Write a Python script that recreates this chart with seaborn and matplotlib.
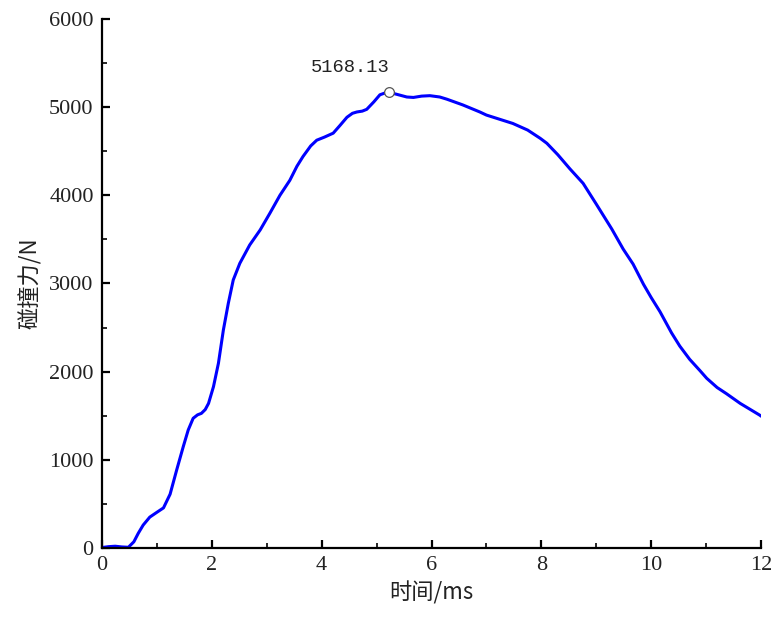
import numpy as np
import pandas as pd
import matplotlib
matplotlib.use("Agg")
import matplotlib.pyplot as plt
from matplotlib.ticker import MultipleLocator
import seaborn as sns

# Impact force history
time_ms = [0.0, 0.12, 0.24, 0.36, 0.48, 0.58, 0.66, 0.75, 0.87, 1.0,
           1.12, 1.24, 1.36, 1.48, 1.57, 1.66, 1.74, 1.81, 1.88, 1.94,
           2.03, 2.12, 2.21, 2.30, 2.39, 2.51, 2.69, 2.88, 3.06, 3.24,
           3.42, 3.55, 3.66, 3.8, 3.91, 4.05, 4.21, 4.33, 4.46, 4.56,
           4.64, 4.74, 4.82, 4.95, 5.06, 5.15, 5.23, 5.4, 5.55, 5.67,
           5.82, 5.97, 6.15, 6.28, 6.57, 6.88, 7.0, 7.48, 7.75, 7.98,
           8.1, 8.3, 8.52, 8.76, 9.0, 9.28, 9.49, 9.67, 9.86, 10.0,
           10.16, 10.37, 10.52, 10.7, 10.89, 11.01, 11.2, 11.37, 11.62, 11.98,
           12.0]
force_n = [5, 15, 20, 12, 8, 70, 166, 260, 350, 405,
           455, 610, 885, 1150, 1338, 1471, 1510, 1527, 1570, 1640,
           1830, 2095, 2472, 2775, 3040, 3229, 3437, 3607, 3800, 4000,
           4170, 4330, 4440, 4560, 4625, 4660, 4705, 4790, 4885, 4930,
           4945, 4955, 4975, 5060, 5140, 5160, 5168.13, 5140, 5115, 5110,
           5125, 5130, 5115, 5090, 5025, 4945, 4910, 4815, 4740, 4646,
           4590, 4460, 4300, 4136, 3900, 3620, 3390, 3220, 2990, 2840,
           2680, 2440, 2290, 2140, 2010, 1925, 1820, 1750, 1640, 1505,
           1495]

x_ticks = [0, 2, 4, 6, 8, 10, 12]
y_ticks = [0, 1000, 2000, 3000, 4000, 5000, 6000]

df = pd.DataFrame({"t": time_ms, "F": force_n})

sns.set_theme(style="ticks")
plt.rcParams["font.family"] = ["Liberation Serif", "Noto Sans CJK SC"]

fig = plt.figure(figsize=(7.75, 6.22), dpi=100)
ax = fig.add_axes([0.1316, 0.119, 0.8504, 0.8505])

sns.lineplot(data=df, x="t", y="F", ax=ax, color="#0000ff", linewidth=2.2,
             estimator=None, sort=False)

# Peak marker and its value
i_peak = int(np.argmax(df["F"].values))
pt, pf = df["t"][i_peak], df["F"][i_peak]
ax.plot([pt], [pf], marker="o", markersize=7, markerfacecolor="white",
        markeredgecolor="#555555", markeredgewidth=0.9, zorder=5)
ax.annotate(f"{pf:.2f}", xy=(pt, pf), xytext=(-28, 12), textcoords="offset points",
            ha="center", va="bottom", fontsize=13.5,
            family=["Liberation Mono", "DejaVu Sans Mono"], color="#222222")

ax.set_xlim(0, 12)
ax.set_ylim(0, 6000)
ax.set_xticks(x_ticks)
ax.set_yticks(y_ticks)
ax.xaxis.set_minor_locator(MultipleLocator(1))
ax.yaxis.set_minor_locator(MultipleLocator(500))

for side in ("top", "right"):
    ax.spines[side].set_visible(False)
for side in ("left", "bottom"):
    ax.spines[side].set_linewidth(1.6)
    ax.spines[side].set_color("black")

ax.tick_params(which="major", direction="in", length=6, width=1.6,
               labelsize=16, colors="black", pad=6)
ax.tick_params(which="minor", direction="in", length=3.5, width=1.4)
for lab in ax.get_xticklabels() + ax.get_yticklabels():
    lab.set_color("#222222")

ax.set_xlabel("时间/ms", fontsize=16, family=["Noto Sans CJK SC", "DejaVu Sans"],
              labelpad=4, color="#222222")
ax.set_ylabel("碰撞力/N", fontsize=16, family=["Noto Sans CJK SC", "DejaVu Sans"],
              labelpad=5, color="#222222")

fig.savefig("out.png", dpi=100, facecolor="white")
